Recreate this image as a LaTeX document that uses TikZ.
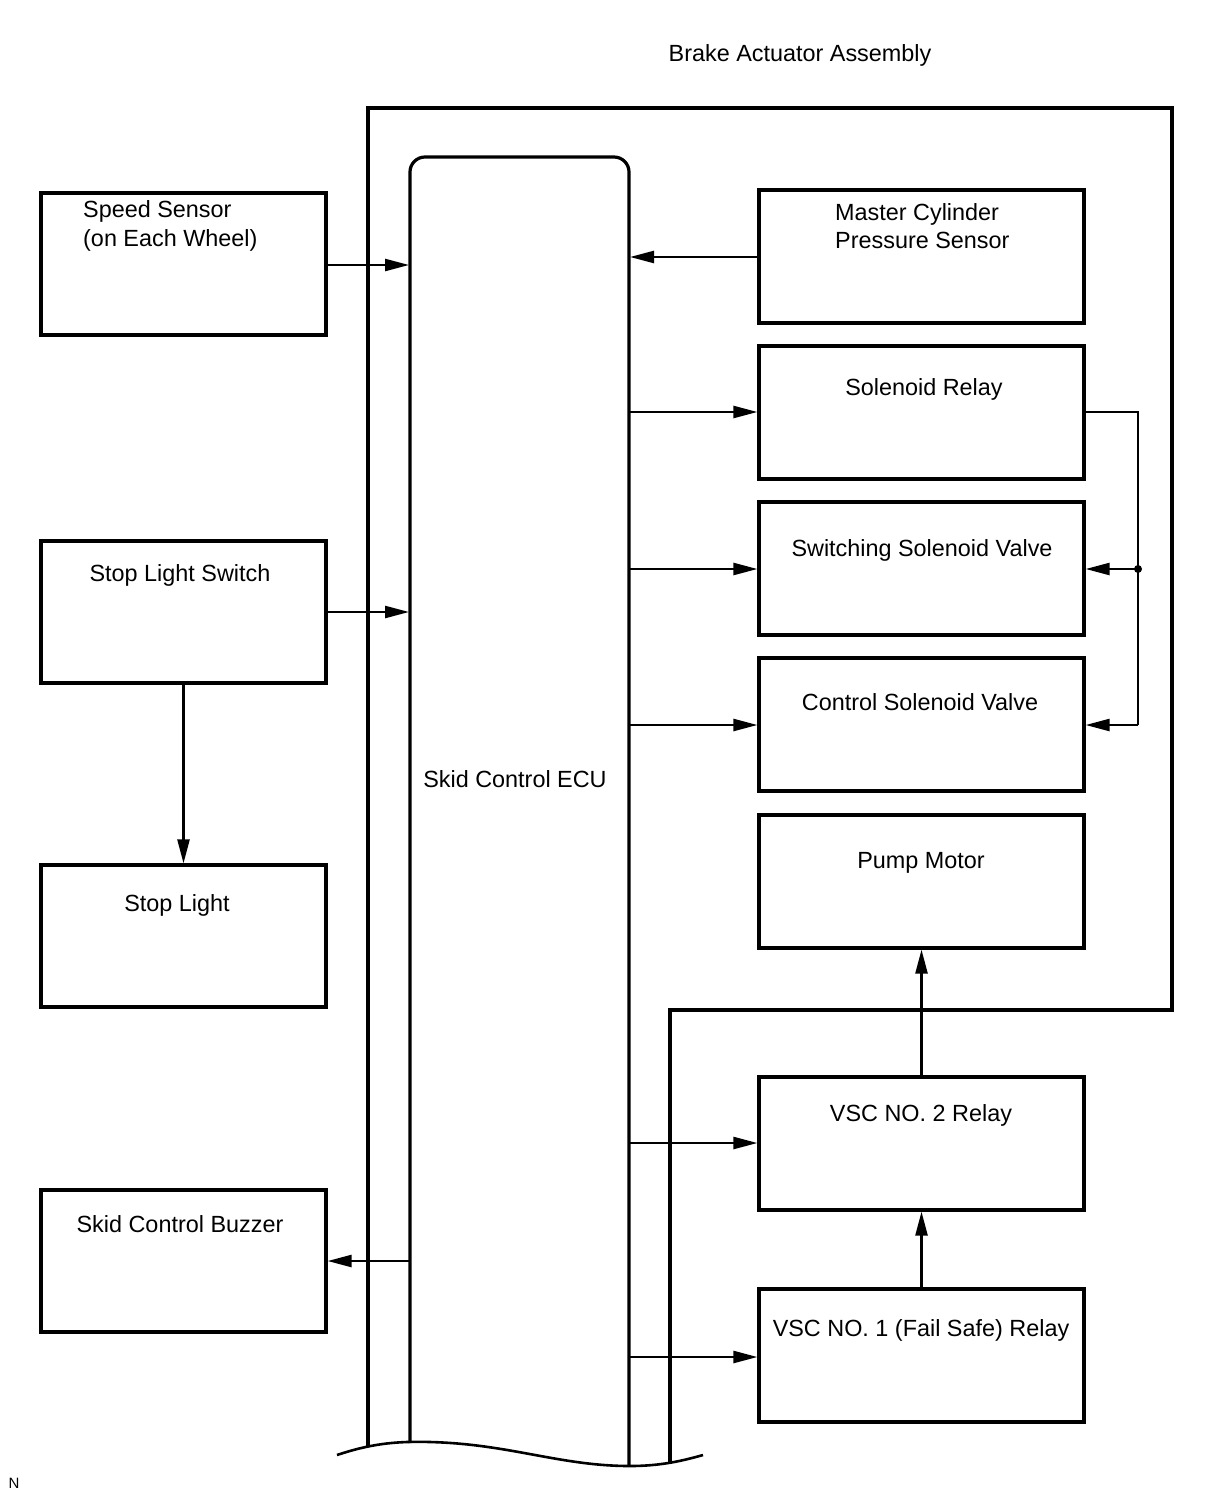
\documentclass[tikz,border=0pt]{standalone}
\usepackage{fontspec}
\setmainfont{Liberation Sans}
\usetikzlibrary{arrows.meta}
\begin{document}
\begin{tikzpicture}[x=1pt,y=-1pt,
  box/.style={draw,line width=3.2pt,rectangle,inner sep=0pt},
  frame/.style={line width=3.2pt},
  conn/.style={line width=2.4pt,-{Triangle[length=24pt,width=12pt]}},
  wire/.style={line width=2.4pt},
  lbl/.style={font=\fontsize{23.4}{28}\selectfont,anchor=base,inner sep=0pt},
  lbll/.style={lbl,anchor=base west}]
\useasboundingbox (0,0) rectangle (1210,1498);
% outer frame of brake actuator assembly
\draw[frame] (368,1446) -- (368,108) -- (1172,108) -- (1172,1010) -- (670,1010) -- (670,1462);
% ECU
\draw[frame,rounded corners=15pt] (410,1443) -- (410,157) -- (629,157) -- (629,1466);
\draw[line width=2.6pt] (337,1455) .. controls (370,1444) and (395,1441) .. (430,1442) .. controls (510,1444) and (560,1466) .. (630,1466) .. controls (660,1466) and (682,1461) .. (703,1455);
\node[lbl] (ecu) at (515,787) {Skid Control ECU};
\node[lbl] (title) at (800,62) {Brake Actuator Assembly};
\node[anchor=base,inner sep=0pt,font=\fontsize{15}{16}\selectfont] (nmark) at (14,1488) {N};
% left boxes
\node[box,minimum width=285pt,minimum height=142pt] (ss) at (183.5,264) {};
\node[box,minimum width=285pt,minimum height=142pt] (sls) at (183.5,612) {};
\node[box,minimum width=285pt,minimum height=142pt] (sl) at (183.5,936) {};
\node[box,minimum width=285pt,minimum height=142pt] (bz) at (183.5,1261) {};
\node[lbll] (ssT1) at (83,218) {Speed Sensor};
\node[lbll] (ssT2) at (83,246) {(on Each Wheel)};
\node[lbl] (slsT) at (180,581) {Stop Light Switch};
\node[lbl] (slT) at (177,911) {Stop Light};
\node[lbl] (bzT) at (180,1232) {Skid Control Buzzer};
% right boxes
\node[box,minimum width=325pt,minimum height=133pt] (mc) at (921.5,256.5) {};
\node[box,minimum width=325pt,minimum height=133pt] (sr) at (921.5,412.5) {};
\node[box,minimum width=325pt,minimum height=133pt] (sv) at (921.5,568.5) {};
\node[box,minimum width=325pt,minimum height=133pt] (cv) at (921.5,724.5) {};
\node[box,minimum width=325pt,minimum height=133pt] (pm) at (921.5,881.5) {};
\node[box,minimum width=325pt,minimum height=133pt] (v2) at (921.5,1143.5) {};
\node[box,minimum width=325pt,minimum height=133pt] (v1) at (921.5,1355.5) {};
\node[lbll] (mcT1) at (835,220) {Master Cylinder};
\node[lbll] (mcT2) at (835,248) {Pressure Sensor};
\node[lbl] (srT) at (924,395) {Solenoid Relay};
\node[lbl] (svT) at (922,556) {Switching Solenoid Valve};
\node[lbl] (cvT) at (920,710) {Control Solenoid Valve};
\node[lbl] (pmT) at (921,868) {Pump Motor};
\node[lbl] (v2T) at (921,1121) {VSC NO. 2 Relay};
\node[lbl] (v1T) at (921,1336) {VSC NO. 1 (Fail Safe) Relay};
% connectors left
\draw[conn] (ss.east |- 0,265) -- (409,265);
\draw[conn] (sls.east) -- (409,612);
\draw[conn] (sls.south) -- (sl.north);
\draw[conn] (410,1261) -- (bz.east);
% connectors right
\draw[conn] (mc.west |- 0,257) -- (630,257);
\draw[conn] (629,412) -- (sr.west |- 0,412);
\draw[conn] (629,569) -- (sv.west |- 0,569);
\draw[conn] (629,725) -- (cv.west |- 0,725);
\draw[conn] (629,1143) -- (v2.west |- 0,1143);
\draw[conn] (629,1357) -- (v1.west |- 0,1357);
\coordinate (jn) at (1138,569);
\draw[wire] (sr.east |- 0,412) -- (1138,412) -- (1138,725);
\draw[conn] (1138,725) -- (cv.east |- 0,725);
\draw[conn] (jn) -- (sv.east |- 0,569);
\fill (jn) circle[radius=4pt];
\draw[conn] (v2.north) -- (pm.south);
\draw[conn] (v1.north) -- (v2.south);
\end{tikzpicture}
\end{document}
